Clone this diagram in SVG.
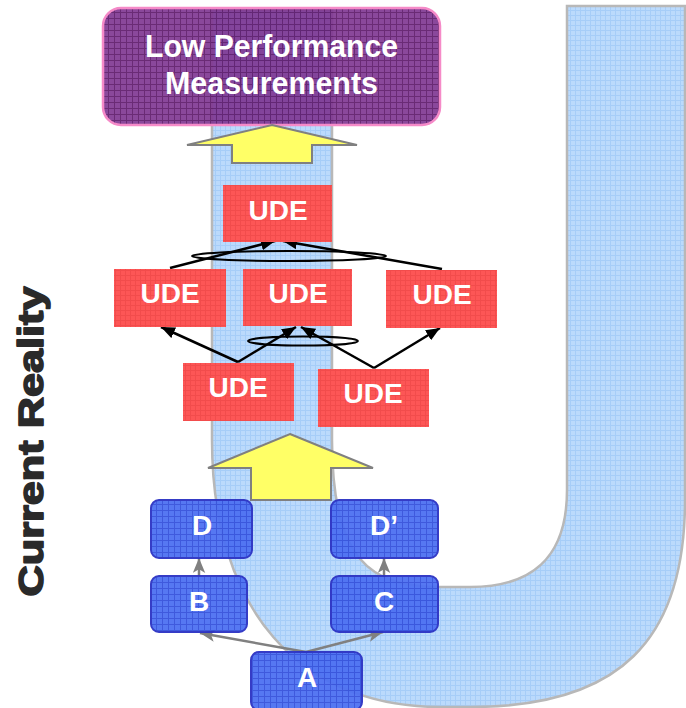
<svg xmlns="http://www.w3.org/2000/svg" width="686" height="708" viewBox="0 0 686 708">
  <defs>
    <style>
      .lbl { font-family: "Liberation Sans", Arial, sans-serif; font-weight: bold; fill: #ffffff; text-anchor: middle; }
      .ude rect { fill: url(#pRed); }
      .ude text { font-size: 28px; }
      .blk rect { fill: url(#pBox); stroke: #2b32c4; stroke-width: 2; opacity: 0.95; }
      .blk text { font-size: 28px; }
      .link { stroke: #000000; stroke-width: 2.5; fill: none; }
      .glink { stroke: #808080; stroke-width: 2.5; fill: none; }
      .and { stroke: #000000; stroke-width: 2; fill: none; }
      .bigarrow { fill: #ffff66; stroke: #808080; stroke-width: 2; stroke-linejoin: miter; }
    </style>
    <pattern id="pStrip" width="5" height="5" patternUnits="userSpaceOnUse">
      <rect width="5" height="5" fill="#bbdafc"/>
      <path d="M0 0.5H5M0.5 0V5" stroke="#a6cdf8" stroke-width="1"/>
    </pattern>
    <pattern id="pPurple" width="6" height="6" patternUnits="userSpaceOnUse">
      <rect width="6" height="6" fill="#7d3490"/>
      <path d="M0 0.5H6M0.5 0V6" stroke="#5a1466" stroke-width="1"/>
    </pattern>
    <pattern id="pRed" width="5" height="5" patternUnits="userSpaceOnUse">
      <rect width="5" height="5" fill="#fd5656"/>
      <path d="M0 0.5H5M0.5 0V5" stroke="#f24c4c" stroke-width="1"/>
    </pattern>
    <pattern id="pBox" width="6" height="6" patternUnits="userSpaceOnUse">
      <rect width="6" height="6" fill="#4d71f2"/>
      <path d="M0 0.5H6M0.5 0V6" stroke="#3552dc" stroke-width="1"/>
    </pattern>
    <marker id="ah" viewBox="0 0 12 10" refX="12" refY="5" markerWidth="14" markerHeight="12" markerUnits="userSpaceOnUse" orient="auto">
      <path d="M0 0L12 5L0 10Z" fill="#000000"/>
    </marker>
    <marker id="gh" viewBox="0 0 12 10" refX="12" refY="5" markerWidth="15" markerHeight="13" markerUnits="userSpaceOnUse" orient="auto">
      <path d="M0 0L12 5L0 10L3 5Z" fill="#808080"/>
    </marker>
  </defs>

  <rect width="686" height="708" fill="#ffffff"/>

  <!-- U-shaped band behind everything -->
  <path id="band" d="M212,10 L212,440 C212,610 300,707 440,707 L470,707 C620,707 685,640 685,500 L685,6 L567,6 L567,490 C567,560 530,587 470,587 L440,587 C370,587 332,560 332,440 L332,10 Z" fill="url(#pStrip)" stroke="#b8b8b8" stroke-width="2.5"/>

  <!-- Title box -->
  <g id="title">
    <rect x="103" y="8" width="337" height="117" rx="18" fill="url(#pPurple)" fill-opacity="0.9" stroke="#f58ac8" stroke-width="2.5"/>
    <text class="lbl" x="271.5" y="57" font-size="32" textLength="253" lengthAdjust="spacingAndGlyphs">Low Performance</text>
    <text class="lbl" x="271.5" y="93.5" font-size="31" textLength="213" lengthAdjust="spacingAndGlyphs">Measurements</text>
  </g>

  <!-- Block arrows -->
  <g id="arrow-top">
    <polygon class="bigarrow" points="272,125 357,145 312,145 312,163 232,163 232,145 187,145"/>
  </g>
  <g id="arrow-bottom">
    <polygon class="bigarrow" points="290,434 373,468 331,468 331,500 251,500 251,468 208,468"/>
  </g>

  <!-- Connectors -->
  <g id="connectors">
    <ellipse class="and" cx="289" cy="256" rx="97" ry="5"/>
    <ellipse class="and" cx="303" cy="341" rx="55" ry="4.5"/>
    <line class="link" x1="170" y1="268" x2="275" y2="241" marker-end="url(#ah)"/>
    <line class="link" x1="442" y1="269" x2="283" y2="241" marker-end="url(#ah)"/>
    <line class="link" x1="238" y1="362" x2="161" y2="327" marker-end="url(#ah)"/>
    <line class="link" x1="238" y1="362" x2="296" y2="327" marker-end="url(#ah)"/>
    <line class="link" x1="374" y1="368" x2="301" y2="327" marker-end="url(#ah)"/>
    <line class="link" x1="374" y1="368" x2="440" y2="328" marker-end="url(#ah)"/>
    <line class="glink" x1="199" y1="576" x2="199" y2="558" marker-end="url(#gh)"/>
    <line class="glink" x1="384" y1="577" x2="384" y2="558" marker-end="url(#gh)"/>
    <line class="glink" x1="306" y1="652" x2="200" y2="633" marker-end="url(#gh)"/>
    <line class="glink" x1="306" y1="652" x2="383" y2="632" marker-end="url(#gh)"/>
  </g>

  <!-- Undesirable effects -->
  <g id="ude-top" class="ude">
    <rect x="223" y="185" width="109" height="57"/>
    <text class="lbl" x="278" y="220">UDE</text>
  </g>
  <g id="ude-mid-left" class="ude">
    <rect x="114" y="269" width="112" height="58"/>
    <text class="lbl" x="170" y="303">UDE</text>
  </g>
  <g id="ude-mid-center" class="ude">
    <rect x="243" y="269" width="109" height="57"/>
    <text class="lbl" x="298" y="303">UDE</text>
  </g>
  <g id="ude-mid-right" class="ude">
    <rect x="386" y="270" width="111" height="58"/>
    <text class="lbl" x="442" y="304">UDE</text>
  </g>
  <g id="ude-low-left" class="ude">
    <rect x="183" y="363" width="111" height="58"/>
    <text class="lbl" x="238" y="397">UDE</text>
  </g>
  <g id="ude-low-right" class="ude">
    <rect x="318" y="369" width="111" height="58"/>
    <text class="lbl" x="373" y="403">UDE</text>
  </g>

  <!-- Causes -->
  <g id="node-d" class="blk">
    <rect x="151" y="500" width="101" height="58" rx="8"/>
    <text class="lbl" x="202" y="535">D</text>
  </g>
  <g id="node-d2" class="blk">
    <rect x="331" y="500" width="107" height="58" rx="8"/>
    <text class="lbl" x="384" y="535">D’</text>
  </g>
  <g id="node-b" class="blk">
    <rect x="151" y="576" width="96" height="56" rx="8"/>
    <text class="lbl" x="199" y="611">B</text>
  </g>
  <g id="node-c" class="blk">
    <rect x="331" y="576" width="107" height="56" rx="8"/>
    <text class="lbl" x="384" y="611">C</text>
  </g>
  <g id="node-a" class="blk">
    <rect x="251" y="652" width="111" height="58" rx="8"/>
    <text class="lbl" x="307" y="687">A</text>
  </g>

  <!-- Side caption, heavy weight -->
  <text x="0" y="0" transform="translate(43,441.5) rotate(-90)" font-family="'Liberation Sans', Arial, sans-serif" font-weight="bold" font-size="35" fill="#2a2a2a" stroke="#2a2a2a" stroke-width="1.6" stroke-linejoin="round" text-anchor="middle" textLength="310" lengthAdjust="spacingAndGlyphs">Current Reality</text>
</svg>
